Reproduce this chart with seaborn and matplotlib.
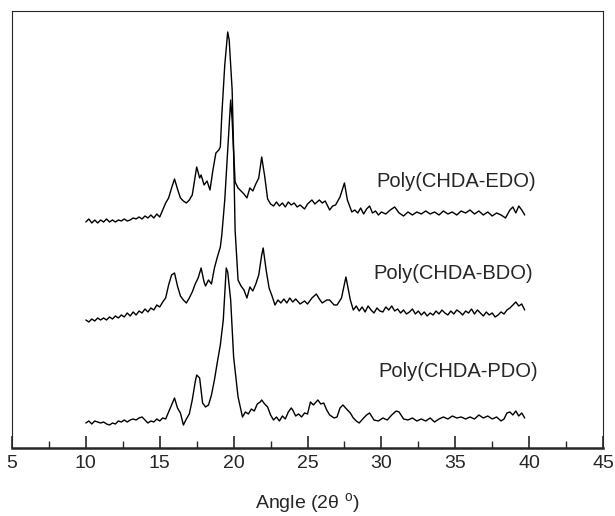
import numpy as np
import pandas as pd
import seaborn as sns
import matplotlib
matplotlib.use('Agg')
import matplotlib.pyplot as plt
from matplotlib.ticker import MultipleLocator

# XRD 数据 (强度为任意单位, 读自原图)
edo_angle = [10.0, 10.2, 10.4, 10.6, 10.8, 11.0, 11.2, 11.4, 11.6, 11.8, 12.0, 12.2, 12.4, 12.6, 12.8,
             13.0, 13.2, 13.4, 13.6, 13.8, 14.0, 14.2, 14.4, 14.6, 14.8, 15.0, 15.2, 15.4, 15.6, 15.8,
             16.0, 16.2, 16.4, 16.6, 16.8, 17.0, 17.2, 17.4, 17.5, 17.7, 17.8, 18.0, 18.2, 18.4, 18.6,
             18.8, 19.0, 19.1, 19.2, 19.4, 19.6, 19.7, 19.9, 20.0, 20.1, 20.3, 20.5, 20.7, 20.9, 21.1,
             21.3, 21.5, 21.7, 21.9, 22.1, 22.3, 22.5, 22.7, 22.9, 23.1, 23.3, 23.5, 23.7, 23.9, 24.1,
             24.3, 24.5, 24.8, 25.0, 25.3, 25.5, 25.8, 26.0, 26.2, 26.5, 26.7, 26.9, 27.2, 27.5, 27.7,
             28.0, 28.2, 28.4, 28.6, 28.8, 29.0, 29.2, 29.4, 29.6, 29.8, 30.0, 30.3, 30.6, 30.9, 31.2,
             31.5, 31.8, 32.1, 32.4, 32.7, 33.0, 33.3, 33.6, 33.9, 34.2, 34.5, 34.8, 35.1, 35.4, 35.7,
             36.0, 36.3, 36.6, 36.9, 37.2, 37.5, 37.8, 38.1, 38.4, 38.7, 38.9, 39.1, 39.3, 39.5, 39.7]
edo_int = [226, 229, 225, 228, 225, 228, 226, 229, 226, 228, 226, 228, 227, 229, 227,
           228, 230, 229, 231, 229, 232, 230, 233, 230, 234, 231, 238, 245, 250, 260,
           269, 259, 250, 247, 245, 248, 253, 272, 281, 270, 273, 263, 267, 258, 278,
           295, 298, 301, 333, 383, 416, 408, 358, 298, 266, 260, 257, 254, 250, 260,
           257, 264, 270, 291, 272, 249, 244, 242, 246, 242, 245, 241, 246, 243, 245,
           241, 243, 239, 244, 248, 244, 248, 245, 247, 238, 242, 243, 251, 265, 248,
           236, 238, 235, 240, 234, 239, 242, 235, 237, 233, 236, 234, 238, 241, 235,
           232, 236, 233, 236, 234, 237, 234, 236, 233, 237, 234, 236, 233, 237, 235,
           238, 234, 237, 233, 236, 232, 235, 233, 230, 238, 241, 235, 242, 238, 233]

bdo_angle = [10.0, 10.2, 10.4, 10.6, 10.8, 11.0, 11.2, 11.4, 11.6, 11.8, 12.0, 12.2, 12.4, 12.6, 12.8,
             13.0, 13.2, 13.4, 13.6, 13.8, 14.0, 14.2, 14.4, 14.6, 14.8, 15.0, 15.2, 15.4, 15.6, 15.8,
             16.0, 16.2, 16.4, 16.6, 16.8, 17.0, 17.2, 17.4, 17.6, 17.8, 18.0, 18.1, 18.3, 18.5, 18.7,
             18.9, 19.1, 19.2, 19.4, 19.6, 19.8, 19.9, 20.0, 20.1, 20.3, 20.5, 20.7, 20.9, 21.1, 21.3,
             21.5, 21.7, 21.9, 22.0, 22.2, 22.4, 22.6, 22.8, 23.0, 23.2, 23.4, 23.6, 23.8, 24.0, 24.2,
             24.5, 24.8, 25.0, 25.3, 25.6, 25.8, 26.0, 26.3, 26.5, 26.8, 27.0, 27.3, 27.6, 27.9, 28.1,
             28.3, 28.5, 28.7, 28.9, 29.1, 29.3, 29.5, 29.7, 29.9, 30.1, 30.3, 30.5, 30.7, 30.9, 31.1,
             31.3, 31.5, 31.7, 31.9, 32.1, 32.3, 32.5, 32.7, 32.9, 33.1, 33.3, 33.5, 33.7, 33.9, 34.1,
             34.3, 34.5, 34.7, 34.9, 35.1, 35.3, 35.5, 35.7, 35.9, 36.1, 36.3, 36.5, 36.7, 36.9, 37.1,
             37.3, 37.5, 37.7, 37.9, 38.1, 38.3, 38.5, 38.7, 38.9, 39.1, 39.3, 39.5, 39.7]
bdo_int = [128, 126, 129, 127, 130, 128, 130, 128, 131, 129, 132, 130, 133, 131, 135,
           132, 136, 133, 137, 135, 139, 136, 140, 138, 143, 141, 146, 150, 163, 173,
           175, 162, 152, 148, 145, 150, 156, 164, 170, 180, 166, 162, 168, 164, 180,
           191, 201, 213, 248, 298, 348, 328, 295, 218, 168, 162, 158, 150, 161, 157,
           164, 173, 193, 200, 178, 160, 152, 143, 148, 145, 149, 145, 150, 146, 149,
           144, 147, 144, 150, 154, 149, 145, 148, 148, 143, 143, 150, 171, 148, 138,
           142, 137, 141, 136, 142, 138, 135, 140, 137, 136, 141, 138, 142, 137, 139,
           135, 138, 134, 136, 139, 134, 137, 133, 136, 132, 135, 133, 137, 134, 138,
           135, 133, 137, 134, 138, 136, 133, 137, 135, 139, 134, 138, 135, 132, 136,
           133, 135, 131, 133, 136, 134, 138, 140, 143, 146, 142, 144, 138]

pdo_angle = [10.0, 10.2, 10.4, 10.6, 10.8, 11.0, 11.2, 11.4, 11.6, 11.8, 12.0, 12.2, 12.4, 12.6, 12.8,
             13.0, 13.2, 13.4, 13.6, 13.8, 14.0, 14.2, 14.4, 14.6, 14.8, 15.0, 15.2, 15.4, 15.6, 15.8,
             16.0, 16.2, 16.4, 16.6, 16.8, 17.0, 17.2, 17.4, 17.5, 17.7, 17.9, 18.1, 18.3, 18.5, 18.7,
             18.9, 19.1, 19.3, 19.5, 19.6, 19.8, 20.0, 20.3, 20.6, 20.8, 21.0, 21.2, 21.4, 21.6, 21.8,
             21.9, 22.1, 22.3, 22.5, 22.7, 22.9, 23.1, 23.3, 23.5, 23.7, 23.9, 24.0, 24.2, 24.4, 24.6,
             24.8, 25.0, 25.2, 25.4, 25.7, 25.9, 26.1, 26.3, 26.5, 26.8, 27.0, 27.2, 27.4, 27.7, 27.9,
             28.1, 28.3, 28.5, 28.8, 29.0, 29.2, 29.5, 29.8, 30.1, 30.4, 30.7, 31.0, 31.2, 31.5, 31.8,
             32.1, 32.4, 32.7, 33.0, 33.3, 33.6, 33.9, 34.2, 34.5, 34.8, 35.1, 35.4, 35.7, 36.0, 36.3,
             36.6, 36.9, 37.2, 37.5, 37.8, 38.1, 38.3, 38.5, 38.7, 38.9, 39.1, 39.3, 39.5, 39.7]
pdo_int = [25, 27, 24, 27, 26, 25, 26, 24, 23, 25, 24, 27, 26, 28, 26,
           28, 29, 28, 30, 31, 28, 25, 27, 26, 29, 27, 30, 29, 36, 43,
           50, 40, 35, 23, 29, 34, 48, 66, 73, 70, 45, 41, 43, 53, 68,
           86, 103, 128, 180, 176, 148, 91, 51, 31, 36, 34, 39, 37, 44, 46,
           48, 44, 41, 33, 28, 31, 27, 32, 29, 36, 40, 38, 32, 34, 31,
           35, 34, 46, 43, 48, 44, 45, 38, 33, 30, 31, 40, 43, 38, 35,
           30, 27, 25, 30, 33, 35, 28, 27, 30, 28, 33, 37, 36, 29, 28,
           30, 27, 29, 27, 30, 26, 29, 31, 29, 32, 30, 31, 29, 31, 29,
           33, 30, 32, 29, 31, 27, 29, 35, 36, 33, 37, 32, 35, 30]

labels = ['Poly(CHDA-EDO)', 'Poly(CHDA-BDO)', 'Poly(CHDA-PDO)']

# 整理成长表
df = pd.concat([
    pd.DataFrame({'angle': edo_angle, 'intensity': edo_int, 'sample': labels[0]}),
    pd.DataFrame({'angle': bdo_angle, 'intensity': bdo_int, 'sample': labels[1]}),
    pd.DataFrame({'angle': pdo_angle, 'intensity': pdo_int, 'sample': labels[2]}),
])

sns.set_style('ticks')
plt.rcParams['font.family'] = ['Liberation Sans', 'DejaVu Sans']

fig = plt.figure(figsize=(6.15, 5.16), dpi=100)
ax = fig.add_axes([0.0195, 0.1318, 0.961, 0.8469])

sns.lineplot(data=df, x='angle', y='intensity', units='sample', estimator=None,
             color='black', linewidth=1.0, ax=ax, legend=False)

# 样品标签
ax.text(35.05, 266, labels[0], fontsize=14.5, ha='center', va='center')
ax.text(34.85, 174, labels[1], fontsize=14.5, ha='center', va='center')
ax.text(35.2, 76, labels[2], fontsize=14.5, ha='center', va='center')

# 坐标轴设置
ax.set_xlim(5, 45)
ax.set_ylim(0, 437)
ax.xaxis.set_major_locator(MultipleLocator(5))
ax.xaxis.set_minor_locator(MultipleLocator(2.5))
ax.tick_params(axis='x', which='major', direction='in', length=9, width=1.2, labelsize=14, pad=5)
ax.tick_params(axis='x', which='minor', direction='in', length=5, width=1.0)
ax.set_yticks([])
ax.set_ylabel('')
ax.set_xlabel('Angle (2θ $^{\\mathregular{o}}$)', fontsize=14, labelpad=14)
for side in ['left', 'right', 'top']:
    ax.spines[side].set_visible(True)
    ax.spines[side].set_linewidth(0.8)
ax.spines['bottom'].set_linewidth(1.8)

fig.savefig('out.png', dpi=100)
